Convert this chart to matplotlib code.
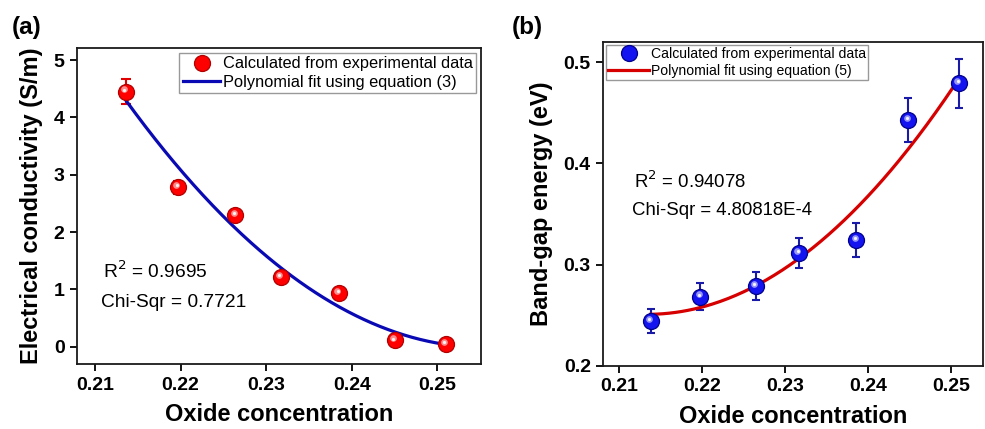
import numpy as np
import matplotlib
matplotlib.use("Agg")
import matplotlib.pyplot as plt
import matplotlib.transforms as mtransforms

plt.rcParams['font.family'] = ['Liberation Sans', 'DejaVu Sans']

# Panel (a) data
xa = [0.2136, 0.2197, 0.2264, 0.2317, 0.2385, 0.2450, 0.2510]
ya = [4.45, 2.78, 2.30, 1.22, 0.94, 0.11, 0.05]
ea = [0.22, 0.12, 0.06, 0.05, 0.05, 0.04, 0.04]
# points read on the fitted curve (a)
fa_x = [0.2136, 0.2317, 0.2510]
fa_y = [4.30, 1.38, 0.04]

# Panel (b) data
xb = [0.2138, 0.2198, 0.2265, 0.2317, 0.2386, 0.2449, 0.2510]
yb = [0.2442, 0.2682, 0.2788, 0.3112, 0.3243, 0.4431, 0.4793]
eb = [0.012, 0.0135, 0.014, 0.015, 0.0165, 0.022, 0.024]
# points read on the fitted curve (b)
fb_x = [0.2138, 0.2317, 0.2510]
fb_y = [0.2508, 0.306, 0.484]

xticks = [0.21, 0.22, 0.23, 0.24, 0.25]
xtick_labels = ['0.21', '0.22', '0.23', '0.24', '0.25']

fig = plt.figure(figsize=(9.85, 4.29), dpi=100)
axa = fig.add_axes([0.0782, 0.1515, 0.4101, 0.7365])
axb = fig.add_axes([0.6125, 0.1476, 0.3855, 0.7552])


def style(ax):
    for s in ax.spines.values():
        s.set_linewidth(1.3)
        s.set_color('#1a1a1a')
    ax.tick_params(direction='out', length=5, width=1.3, labelsize=14, pad=4,
                   top=False, right=False)
    for lab in ax.get_xticklabels() + ax.get_yticklabels():
        lab.set_fontweight('bold')


def sphere(ax, x, y, e, face, edge, ecolor, capsize, ms=11.5, label=None):
    ax.errorbar(x, y, yerr=e, fmt='none', ecolor=ecolor, elinewidth=1.5,
                capsize=capsize, capthick=1.5, zorder=3)
    h, = ax.plot(x, y, 'o', ms=ms, mfc=face, mec=edge, mew=0.9, zorder=4, label=label)
    off = mtransforms.ScaledTranslation(-1.2 / 72, 1.6 / 72, fig.dpi_scale_trans)
    ax.plot(x, y, 'o', ms=ms * 0.42, mfc='white', mec='none', alpha=0.55,
            transform=ax.transData + off, zorder=5)
    off2 = mtransforms.ScaledTranslation(-1.0 / 72, 1.4 / 72, fig.dpi_scale_trans)
    ax.plot(x, y, 'o', ms=ms * 0.2, mfc='white', mec='none', alpha=0.9,
            transform=ax.transData + off2, zorder=6)
    return h


# ----- Panel (a)
ca = np.polyfit(fa_x, fa_y, 2)
xx = np.linspace(fa_x[0], fa_x[-1], 200)
ha = sphere(axa, xa, ya, ea, '#ff0000', '#b00000', '#e00000', 3.5,
            label='Calculated from experimental data')
la, = axa.plot(xx, np.polyval(ca, xx), color='#0a0ab4', lw=2.3, zorder=3.5,
               label='Polynomial fit using equation (3)')
axa.set_xlim(0.2079, 0.2551)
axa.set_ylim(-0.30, 5.21)
axa.set_xticks(xticks)
axa.set_xticklabels(xtick_labels)
axa.set_yticks([0, 1, 2, 3, 4, 5])
style(axa)
axa.set_xlabel('Oxide concentration', fontsize=17, fontweight='bold', labelpad=7)
axa.set_ylabel('Electrical conductivity (S/m)', fontsize=17, fontweight='bold', labelpad=8)
leg = axa.legend(handles=[ha, la], loc='upper right', fontsize=11.8, frameon=True,
                 fancybox=False, edgecolor='#808080', handlelength=2.3,
                 handletextpad=0.15, borderpad=0.2, labelspacing=0.2,
                 borderaxespad=0.3)
leg.get_frame().set_linewidth(1.0)
axa.text(0.065, 0.293, r'R$^{2}$ = 0.9695', transform=axa.transAxes, fontsize=13.8,
         va='center', ha='left')
axa.text(0.06, 0.195, 'Chi-Sqr = 0.7721', transform=axa.transAxes, fontsize=13.8,
         va='center', ha='left')
fig.text(0.012, 0.935, '(a)', fontsize=17.5, fontweight='bold', va='center')

# ----- Panel (b)
cb = np.polyfit(fb_x, fb_y, 2)
xx = np.linspace(fb_x[0], fb_x[-1], 200)
hb = sphere(axb, xb, yb, eb, '#1414f0', '#00008c', '#1a1aa8', 3.0,
            label='Calculated from experimental data')
lb, = axb.plot(xx, np.polyval(cb, xx), color='#d60000', lw=2.3, zorder=3.5,
               label='Polynomial fit using equation (5)')
axb.set_xlim(0.2081, 0.2539)
axb.set_ylim(0.2, 0.5204)
axb.set_xticks(xticks)
axb.set_xticklabels(xtick_labels)
axb.set_yticks([0.2, 0.3, 0.4, 0.5])
axb.set_yticklabels(['0.2', '0.3', '0.4', '0.5'])
style(axb)
axb.set_xlabel('Oxide concentration', fontsize=17, fontweight='bold', labelpad=7)
axb.set_ylabel('Band-gap energy (eV)', fontsize=17, fontweight='bold', labelpad=8)
leg = axb.legend(handles=[hb, lb], loc='upper left', fontsize=10.1, frameon=True,
                 fancybox=False, edgecolor='#808080', handlelength=2.9,
                 handletextpad=0.15, borderpad=0.15, labelspacing=0.25,
                 borderaxespad=0.2)
leg.get_frame().set_linewidth(1.0)
axb.text(0.081, 0.568, r'R$^{2}$ = 0.94078', transform=axb.transAxes, fontsize=13.4,
         va='center', ha='left')
axb.text(0.076, 0.48, 'Chi-Sqr = 4.80818E-4', transform=axb.transAxes, fontsize=13.4,
         va='center', ha='left')
fig.text(0.520, 0.935, '(b)', fontsize=17.5, fontweight='bold', va='center')

fig.savefig('out.png', dpi=100)
